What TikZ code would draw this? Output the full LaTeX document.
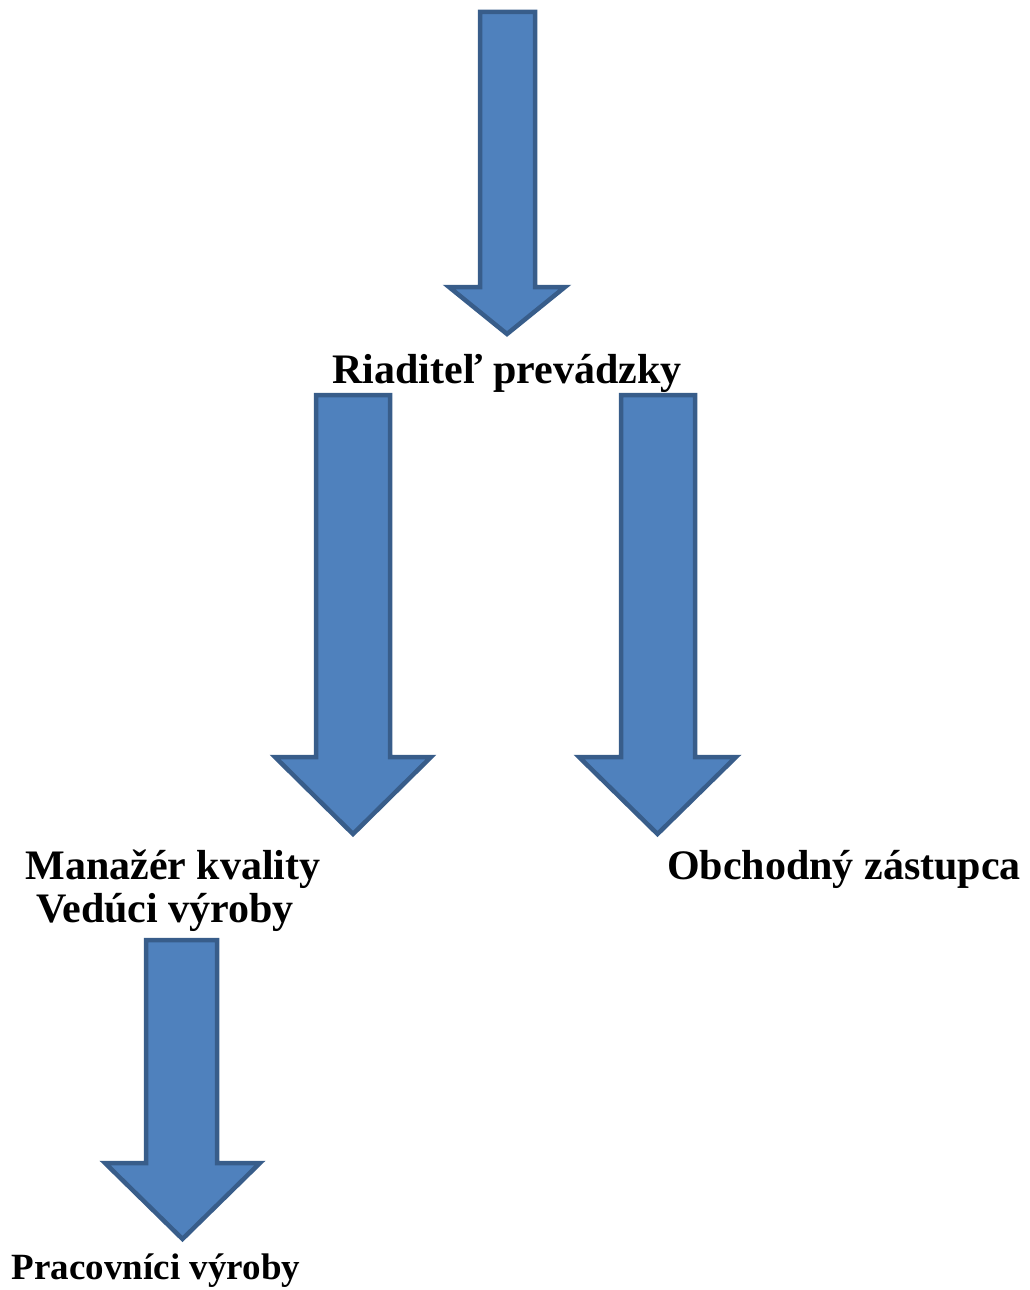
\documentclass[tikz,border=0pt]{standalone}
\usepackage{fontspec}
\setmainfont{Liberation Serif}
\definecolor{arrowfill}{HTML}{4F81BD}
\definecolor{arrowline}{HTML}{385D8A}
\newcommand\myblockarrow[7]{%
  % #1 shaft left, #2 shaft right, #3 shaft top, #4 head left, #5 head right, #6 head top, #7 tip y
  \draw[blockarrow] (#1,#3) -- (#2,#3) -- (#2,#6) -- (#5,#6) -- ({(#4+#5)/2},#7) -- (#4,#6) -- (#1,#6) -- cycle;}
\begin{document}
\begin{tikzpicture}[x=1pt,y=-1pt,
  blockarrow/.style={fill=arrowfill,draw=arrowline,line width=4.5pt,line join=miter},
  bigtext/.style={font=\fontsize{42}{44}\selectfont\bfseries,anchor=base,inner sep=0pt},
  smalltext/.style={font=\fontsize{37}{40}\selectfont\bfseries,anchor=base,inner sep=0pt}]
\useasboundingbox (0,0) rectangle (1029,1290);
\myblockarrow{480}{535}{12}{449}{565}{287}{334}
\myblockarrow{316}{390}{395}{275}{431}{757}{834}
\myblockarrow{621}{695}{395}{579}{736}{757}{834}
\myblockarrow{146}{217}{940}{105}{260}{1163}{1239}
\node[bigtext] (riad) at (507,383) {Riaditeľ prevádzky};
\node[bigtext] (manaz) at (173,879) {Manažér kvality};
\node[bigtext] (ved) at (165,922) {Vedúci výroby};
\node[bigtext] (obch) at (844,879) {Obchodný zástupca};
\node[smalltext] (prac) at (156,1279) {Pracovníci výroby};
\end{tikzpicture}
\end{document}
